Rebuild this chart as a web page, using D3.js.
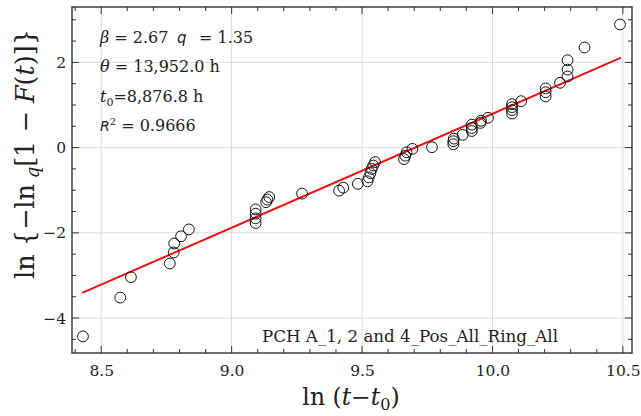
<!DOCTYPE html>
<html>
<head>
<meta charset="utf-8">
<script src="https://cdn.jsdelivr.net/npm/d3@7"></script>
<style>
  body { margin: 0; background: #fff; }
  svg text { font-family: "DejaVu Serif", serif; fill: #222; }
</style>
</head>
<body>
<div id="chart"></div>
<script>
// data: ln(t - t0) and ln{-ln_q[1-F(t)]}
const lnT = [8.430, 8.573, 8.614, 8.763, 8.778, 8.780, 8.806, 8.836,
  9.092, 9.092, 9.092, 9.092, 9.132, 9.137, 9.144, 9.270,
  9.412, 9.428, 9.484, 9.521, 9.526, 9.532, 9.537, 9.543, 9.550,
  9.661, 9.666, 9.671, 9.693, 9.768, 9.850, 9.850, 9.852, 9.886,
  9.921, 9.921, 9.921, 9.954, 9.956, 9.983,
  10.075, 10.075, 10.075, 10.075, 10.110, 10.204, 10.204, 10.204,
  10.259, 10.288, 10.288, 10.288, 10.353, 10.489];
const lnLnQ = [-4.43, -3.52, -3.04, -2.72, -2.46, -2.25, -2.08, -1.92,
  -1.45, -1.55, -1.66, -1.77, -1.28, -1.22, -1.16, -1.08,
  -1.01, -0.94, -0.85, -0.79, -0.70, -0.60, -0.50, -0.42, -0.34,
  -0.27, -0.19, -0.11, -0.03, 0.01, 0.08, 0.15, 0.21, 0.30,
  0.39, 0.46, 0.54, 0.58, 0.63, 0.70,
  0.80, 0.88, 0.95, 1.02, 1.09, 1.20, 1.30, 1.39,
  1.52, 1.67, 1.83, 2.05, 2.35, 2.89];

// fitted line end points
const fitX = [8.427, 10.493];
const fitY = [-3.41, 2.11];

const xTicks = [8.5, 9.0, 9.5, 10.0, 10.5];
const yTicks = [-4, -2, 0, 2];
const xDomain = [8.388, 10.535];
const yDomain = [-4.82, 3.30];

const caption = "PCH A_1, 2 and 4_Pos_All_Ring_All";

const W = 641, H = 416;
const margin = { top: 7, right: 9, bottom: 63, left: 72 };
const plotW = W - margin.left - margin.right;
const plotH = H - margin.top - margin.bottom;

const svg = d3.select("#chart").append("svg")
    .attr("width", W)
    .attr("height", H);

const x = d3.scaleLinear().domain(xDomain).range([0, plotW]);
const y = d3.scaleLinear().domain(yDomain).range([plotH, 0]);

const g = svg.append("g")
    .attr("transform", `translate(${margin.left},${margin.top})`);

// grid lines
g.append("g").selectAll("line")
    .data(xTicks)
    .join("line")
    .attr("x1", d => x(d)).attr("x2", d => x(d))
    .attr("y1", 0).attr("y2", plotH)
    .attr("stroke", "#dcdcdc").attr("stroke-width", 1);
g.append("g").selectAll("line")
    .data(yTicks)
    .join("line")
    .attr("x1", 0).attr("x2", plotW)
    .attr("y1", d => y(d)).attr("y2", d => y(d))
    .attr("stroke", "#dcdcdc").attr("stroke-width", 1);

// ticks on all four sides, pointing inwards
const xMinor = d3.range(8.4, 10.55, 0.1).filter(v => v <= xDomain[1]);
const yMinor = d3.range(-4.5, 3.01, 0.5);

function tickLen(v, step) { return Math.abs(v / step - Math.round(v / step)) < 1e-6 ? 7 : 4; }

const tickG = g.append("g").attr("stroke", "#333").attr("stroke-width", 1);
xMinor.forEach(v => {
    const L = tickLen(v, 0.5);
    tickG.append("line").attr("x1", x(v)).attr("x2", x(v)).attr("y1", plotH).attr("y2", plotH - L);
    tickG.append("line").attr("x1", x(v)).attr("x2", x(v)).attr("y1", 0).attr("y2", L);
});
yMinor.forEach(v => {
    const L = tickLen(v, 2);
    tickG.append("line").attr("y1", y(v)).attr("y2", y(v)).attr("x1", 0).attr("x2", L);
    tickG.append("line").attr("y1", y(v)).attr("y2", y(v)).attr("x1", plotW).attr("x2", plotW - L);
});

// axes (labels only, ticks drawn above)
const xAxis = g.append("g")
    .attr("transform", `translate(0,${plotH})`)
    .call(d3.axisBottom(x).tickValues(xTicks).tickFormat(d3.format(".1f")).tickSize(0).tickPadding(12));
const yAxis = g.append("g")
    .call(d3.axisLeft(y).tickValues(yTicks).tickFormat(d => d < 0 ? "\u2212" + Math.abs(d) : d).tickSize(0).tickPadding(6));
[xAxis, yAxis].forEach(a => {
    a.select(".domain").remove();
    a.selectAll("text").style("font-family", "DejaVu Serif").style("font-size", "15.5px").attr("fill", "#222");
});

// frame
g.append("rect")
    .attr("width", plotW).attr("height", plotH)
    .attr("fill", "none").attr("stroke", "#222").attr("stroke-width", 1.3);

// fitted line
g.append("line")
    .attr("x1", x(fitX[0])).attr("y1", y(fitY[0]))
    .attr("x2", x(fitX[1])).attr("y2", y(fitY[1]))
    .attr("stroke", "#ee1111").attr("stroke-width", 2);

// data points
g.selectAll(".pt")
    .data(lnT.map((v, i) => [v, lnLnQ[i]]))
    .join("circle")
    .attr("class", "pt")
    .attr("cx", d => x(d[0]))
    .attr("cy", d => y(d[1]))
    .attr("r", 5.4)
    .attr("fill", "none")
    .attr("stroke", "#111")
    .attr("stroke-width", 1);

// annotations (absolute coordinates)
const a1 = svg.append("text").attr("x", 100).attr("y", 43).style("font-size", "16px");
a1.append("tspan").style("font-style", "italic").text("β");
a1.append("tspan").text(" = 2.67");
a1.append("tspan").attr("x", 177).style("font-style", "italic").style("font-family", "DejaVu Sans").style("font-size", "15px").text("q");
a1.append("tspan").attr("x", 199).text("= 1.35");

const a2 = svg.append("text").attr("x", 100).attr("y", 72).style("font-size", "16px");
a2.append("tspan").style("font-style", "italic").text("θ");
a2.append("tspan").text(" = 13,952.0 h");

const a3 = svg.append("text").attr("x", 100).attr("y", 102).style("font-size", "16px");
a3.append("tspan").style("font-style", "italic").text("t");
a3.append("tspan").attr("dy", 4).style("font-size", "11px").text("0");
a3.append("tspan").attr("dy", -4).text("=8,876.8 h");

const a4 = svg.append("text").attr("x", 100).attr("y", 131).style("font-size", "16px");
a4.append("tspan").style("font-style", "italic").style("font-family", "DejaVu Sans").style("font-size", "14px").text("R");
a4.append("tspan").attr("dy", -6).style("font-size", "10px").text("2");
a4.append("tspan").attr("dy", 6).text(" = 0.9666");

svg.append("text")
    .attr("x", 558).attr("y", 342)
    .attr("text-anchor", "end")
    .style("font-size", "16.7px")
    .text(caption);

// axis titles
const xt = svg.append("text")
    .attr("x", 351).attr("y", 405)
    .attr("text-anchor", "middle")
    .style("font-size", "23.5px");
xt.append("tspan").text("ln (");
xt.append("tspan").style("font-style", "italic").text("t");
xt.append("tspan").text("\u2212");
xt.append("tspan").style("font-style", "italic").text("t");
xt.append("tspan").attr("dy", 5).style("font-size", "16px").text("0");
xt.append("tspan").attr("dy", -5).text(")");

const yt = svg.append("text")
    .attr("transform", "translate(34,154) rotate(-90)")
    .attr("text-anchor", "middle")
    .style("font-size", "25.5px");
yt.append("tspan").text("ln {\u2212ln");
yt.append("tspan").attr("dy", 5).style("font-style", "italic").style("font-size", "18px").text(" q");
yt.append("tspan").attr("dy", -5).text("[1 \u2212 ");
yt.append("tspan").style("font-style", "italic").text("F");
yt.append("tspan").text("(");
yt.append("tspan").style("font-style", "italic").text("t");
yt.append("tspan").text(")]}");
</script>
</body>
</html>
